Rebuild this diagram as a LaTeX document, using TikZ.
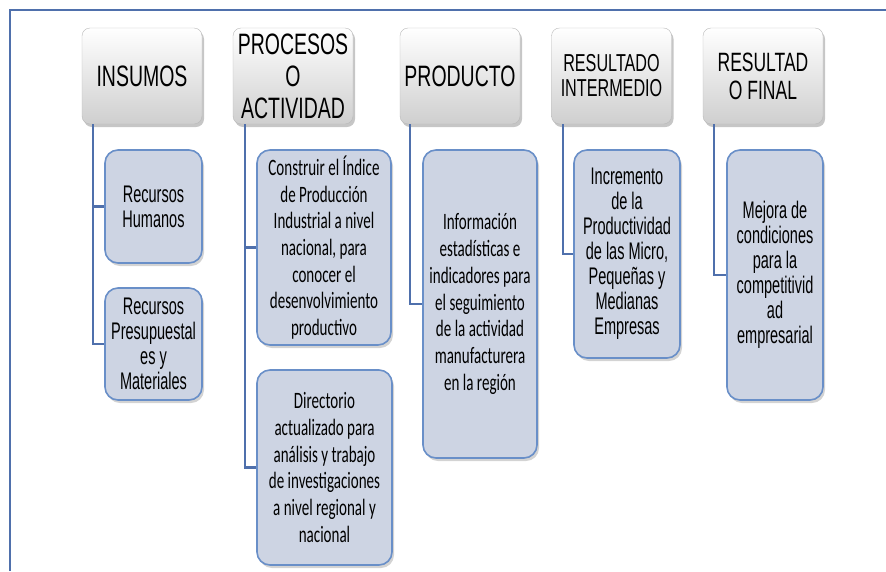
\documentclass[tikz,border=0pt]{standalone}
\usepackage{fontspec}
\setmainfont{Liberation Sans}[FakeStretch=0.66]
\newfontfamily\narrowsans{Liberation Sans}[FakeStretch=0.605]
\newfontfamily\calib{Carlito}[FakeStretch=0.64]
\usetikzlibrary{shadows, positioning}
\definecolor{linkblue}{RGB}{79,112,172}
\definecolor{childfill}{RGB}{205,212,227}
\definecolor{childline}{RGB}{105,143,200}

\begin{document}
\begin{tikzpicture}[x=1pt, y=-1pt,
    head/.style={rectangle, draw=gray!55, top color=white, bottom color=gray!38, minimum width=120pt, minimum height=96pt, inner sep=1pt, align=center, rounded corners=8pt, drop shadow={shadow xshift=2pt, shadow yshift=-3pt, opacity=0.45}},
    child/.style={rectangle, draw=childline, line width=1.6pt, fill=childfill, inner sep=1pt, align=center, rounded corners=13pt, drop shadow={shadow xshift=2pt, shadow yshift=-3pt, opacity=0.35}},
    arial/.style={font=\narrowsans\fontsize{24}{25}\selectfont},
    calibri/.style={font=\calib\fontsize{23.5}{26.7}\selectfont},
    link/.style={draw=linkblue, line width=2.6pt}]
    
    \useasboundingbox (0,0) rectangle (886,571);
    \draw[linkblue, line width=1.6pt] (10,571) -- (10,10) -- (886,10);
    
    % cabeceras
    \node[head, font=\fontsize{29.5}{32}\selectfont] (insumos) at (142,76) {INSUMOS};
    \node[head, font=\fontsize{29.5}{32}\selectfont] (procesos) at (293,76) {PROCESOS\\O\\ACTIVIDAD};
    \node[head, font=\fontsize{29.5}{32}\selectfont] (producto) at (460,76) {PRODUCTO};
    \node[head, font=\fontsize{24.5}{25}\selectfont] (intermedio) at (611.5,76) {RESULTADO\\INTERMEDIO};
    \node[head, font=\fontsize{26.5}{28}\selectfont] (final) at (763,76) {RESULTAD\\O FINAL};
    
    % cajas
    \node[child, arial, minimum width=97pt, minimum height=113pt] (humanos) at (153.5,206.5) {Recursos\\Humanos};
    \node[child, arial, minimum width=97pt, minimum height=112pt] (presup) at (153.5,344) {Recursos\\Presupuestal\\es y\\Materiales};
    \node[child, calibri, minimum width=134pt, minimum height=195pt] (indice) at (324,247.5) {Construir el Índice\\de Producción\\Industrial a nivel\\nacional, para\\conocer el\\desenvolvimiento\\productivo};
    \node[child, calibri, minimum width=135pt, minimum height=195pt] (directorio) at (324.5,467.5) {Directorio\\actualizado para\\análisis y trabajo\\de investigaciones\\a nivel regional y\\nacional};
    \node[child, calibri, minimum width=114pt, minimum height=308pt] (info) at (480,304) {Información\\estadísticas e\\indicadores para\\el seguimiento\\de la actividad\\manufacturera\\en la región};
    \node[child, arial, minimum width=106pt, minimum height=208pt] (incremento) at (627,254) {Incremento\\de la\\Productividad\\de las Micro,\\Pequeñas y\\Medianas\\Empresas};
    \node[child, arial, minimum width=96pt, minimum height=250pt] (mejora) at (775,275) {Mejora de\\condiciones\\para la\\competitivid\\ad\\empresarial};
    
    \draw[link] ([xshift=-49pt]insumos.south) |- (humanos.west);
    \draw[link] ([xshift=-49pt]insumos.south) |- (presup.west);
    \draw[link] ([xshift=-48pt]procesos.south) |- (indice.west);
    \draw[link] ([xshift=-48pt]procesos.south) |- (directorio.west);
    \draw[link] ([xshift=-50pt]producto.south) |- (info.west);
    \draw[link] ([xshift=-48.5pt]intermedio.south) |- (incremento.west);
    \draw[link] ([xshift=-49pt]final.south) |- (mejora.west);
\end{tikzpicture}
\end{document}
